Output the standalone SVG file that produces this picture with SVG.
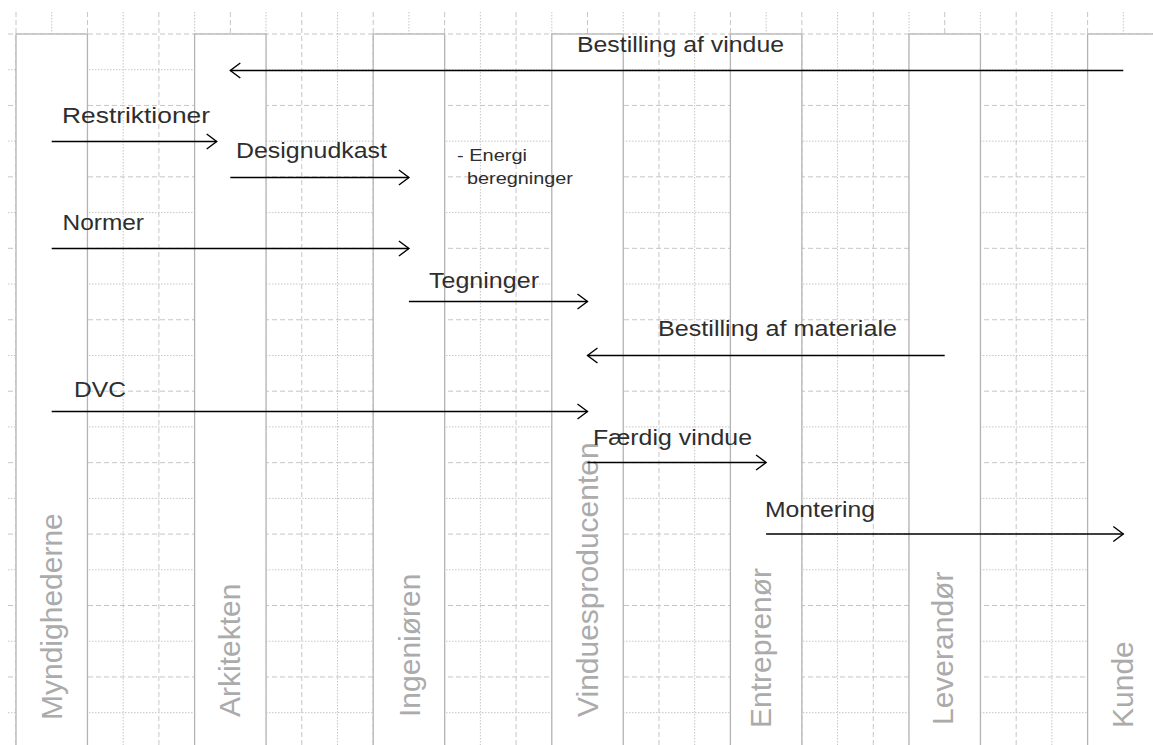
<svg xmlns="http://www.w3.org/2000/svg" width="1153" height="745" viewBox="0 0 1153 745">
<style>
.bg{fill:#ffffff}
.gd{stroke:#c6c6c6;stroke-width:1;stroke-dasharray:5 3;fill:none}
.gt{stroke:#c6c6c6;stroke-width:1;stroke-dasharray:1.5 1.5;fill:none}
.lane{fill:#ffffff;stroke:#b4b4b4;stroke-width:1.3}
.ll{font-family:"Liberation Sans",Arial,sans-serif;font-size:30px;fill:#ababab}
.lbl{font-family:"Liberation Sans",Arial,sans-serif;font-size:22px;fill:#2e2e2e}
.sm{font-family:"Liberation Sans",Arial,sans-serif;font-size:17px;fill:#2e2e2e}
.ar{stroke:#000000;stroke-width:1.5;fill:none;marker-end:url(#ah)}
</style>
<defs>
<marker id="ah" markerUnits="userSpaceOnUse" markerWidth="14" markerHeight="20" viewBox="-12 -10 14 20" refX="0" refY="0" orient="auto">
<path d="M-10,-7.5 L0,0 L-10,7.5" fill="none" stroke="#000000" stroke-width="1.4"/>
</marker>
</defs>
<rect class="bg" x="0" y="0" width="1153" height="745"/>
<g id="grid">
<line class="gd" x1="16" y1="12" x2="16" y2="745"/>
<line class="gt" x1="51.72" y1="12" x2="51.72" y2="745"/>
<line class="gd" x1="87.44" y1="12" x2="87.44" y2="745"/>
<line class="gt" x1="123.16" y1="12" x2="123.16" y2="745"/>
<line class="gd" x1="158.88" y1="12" x2="158.88" y2="745"/>
<line class="gt" x1="194.6" y1="12" x2="194.6" y2="745"/>
<line class="gd" x1="230.32" y1="12" x2="230.32" y2="745"/>
<line class="gt" x1="266.04" y1="12" x2="266.04" y2="745"/>
<line class="gd" x1="301.76" y1="12" x2="301.76" y2="745"/>
<line class="gt" x1="337.48" y1="12" x2="337.48" y2="745"/>
<line class="gd" x1="373.2" y1="12" x2="373.2" y2="745"/>
<line class="gt" x1="408.92" y1="12" x2="408.92" y2="745"/>
<line class="gd" x1="444.64" y1="12" x2="444.64" y2="745"/>
<line class="gt" x1="480.36" y1="12" x2="480.36" y2="745"/>
<line class="gd" x1="516.08" y1="12" x2="516.08" y2="745"/>
<line class="gt" x1="551.8" y1="12" x2="551.8" y2="745"/>
<line class="gd" x1="587.52" y1="12" x2="587.52" y2="745"/>
<line class="gt" x1="623.24" y1="12" x2="623.24" y2="745"/>
<line class="gd" x1="658.96" y1="12" x2="658.96" y2="745"/>
<line class="gt" x1="694.68" y1="12" x2="694.68" y2="745"/>
<line class="gd" x1="730.4" y1="12" x2="730.4" y2="745"/>
<line class="gt" x1="766.12" y1="12" x2="766.12" y2="745"/>
<line class="gd" x1="801.84" y1="12" x2="801.84" y2="745"/>
<line class="gt" x1="837.56" y1="12" x2="837.56" y2="745"/>
<line class="gd" x1="873.28" y1="12" x2="873.28" y2="745"/>
<line class="gt" x1="909" y1="12" x2="909" y2="745"/>
<line class="gd" x1="944.72" y1="12" x2="944.72" y2="745"/>
<line class="gt" x1="980.44" y1="12" x2="980.44" y2="745"/>
<line class="gd" x1="1016.16" y1="12" x2="1016.16" y2="745"/>
<line class="gt" x1="1051.88" y1="12" x2="1051.88" y2="745"/>
<line class="gd" x1="1087.6" y1="12" x2="1087.6" y2="745"/>
<line class="gt" x1="1123.32" y1="12" x2="1123.32" y2="745"/>
<line class="gd" x1="8" y1="34" x2="1153" y2="34"/>
<line class="gt" x1="8" y1="69.72" x2="1153" y2="69.72"/>
<line class="gd" x1="8" y1="105.44" x2="1153" y2="105.44"/>
<line class="gt" x1="8" y1="141.16" x2="1153" y2="141.16"/>
<line class="gd" x1="8" y1="176.88" x2="1153" y2="176.88"/>
<line class="gt" x1="8" y1="212.6" x2="1153" y2="212.6"/>
<line class="gd" x1="8" y1="248.32" x2="1153" y2="248.32"/>
<line class="gt" x1="8" y1="284.04" x2="1153" y2="284.04"/>
<line class="gd" x1="8" y1="319.76" x2="1153" y2="319.76"/>
<line class="gt" x1="8" y1="355.48" x2="1153" y2="355.48"/>
<line class="gd" x1="8" y1="391.2" x2="1153" y2="391.2"/>
<line class="gt" x1="8" y1="426.92" x2="1153" y2="426.92"/>
<line class="gd" x1="8" y1="462.64" x2="1153" y2="462.64"/>
<line class="gt" x1="8" y1="498.36" x2="1153" y2="498.36"/>
<line class="gd" x1="8" y1="534.08" x2="1153" y2="534.08"/>
<line class="gt" x1="8" y1="569.8" x2="1153" y2="569.8"/>
<line class="gd" x1="8" y1="605.52" x2="1153" y2="605.52"/>
<line class="gt" x1="8" y1="641.24" x2="1153" y2="641.24"/>
<line class="gd" x1="8" y1="676.96" x2="1153" y2="676.96"/>
<line class="gt" x1="8" y1="712.68" x2="1153" y2="712.68"/>
</g>
<g id="lane-myndighederne">
<rect class="lane" x="16" y="34" width="71.44" height="730"/>
<text class="ll" transform="translate(61.5,720) rotate(-90)">Myndighederne</text>
</g>
<g id="lane-arkitekten">
<rect class="lane" x="194.6" y="34" width="71.44" height="730"/>
<text class="ll" transform="translate(240,717) rotate(-90)">Arkitekten</text>
</g>
<g id="lane-ingenioren">
<rect class="lane" x="373.2" y="34" width="71.44" height="730"/>
<text class="ll" transform="translate(419.5,717) rotate(-90)">Ingeniøren</text>
</g>
<g id="lane-vinduesproducenten">
<rect class="lane" x="551.8" y="34" width="71.44" height="730"/>
<text class="ll" transform="translate(597.5,717) rotate(-90)">Vinduesproducenten</text>
</g>
<g id="lane-entreprenor">
<rect class="lane" x="730.4" y="34" width="71.44" height="730"/>
<text class="ll" transform="translate(771,728) rotate(-90)">Entreprenør</text>
</g>
<g id="lane-leverandor">
<rect class="lane" x="909" y="34" width="71.44" height="730"/>
<text class="ll" transform="translate(953,725) rotate(-90)">Leverandør</text>
</g>
<g id="lane-kunde">
<rect class="lane" x="1087.6" y="34" width="71.44" height="730"/>
<text class="ll" transform="translate(1132.5,728) rotate(-90)">Kunde</text>
</g>
<g id="connectors">
<line class="ar" x1="1123.3" y1="70.5" x2="230.3" y2="70.5"/>
<line class="ar" x1="51.7" y1="141.5" x2="216.7" y2="141.5"/>
<line class="ar" x1="230.3" y1="177.5" x2="408.9" y2="177.5"/>
<line class="ar" x1="51.7" y1="248.5" x2="408.9" y2="248.5"/>
<line class="ar" x1="408.9" y1="301.5" x2="587.5" y2="301.5"/>
<line class="ar" x1="944.7" y1="355.5" x2="587.5" y2="355.5"/>
<line class="ar" x1="51.7" y1="411.5" x2="587.5" y2="411.5"/>
<line class="ar" x1="587.5" y1="462.5" x2="766.1" y2="462.5"/>
<line class="ar" x1="766.1" y1="534" x2="1123.3" y2="534"/>
</g>
<g id="labels">
<text class="lbl" x="577" y="52" textLength="207" lengthAdjust="spacingAndGlyphs">Bestilling af vindue</text>
<text class="lbl" x="62" y="123" textLength="148" lengthAdjust="spacingAndGlyphs">Restriktioner</text>
<text class="lbl" x="236" y="158" textLength="151" lengthAdjust="spacingAndGlyphs">Designudkast</text>
<text class="sm" x="457" y="161" textLength="70" lengthAdjust="spacingAndGlyphs">- Energi</text>
<text class="sm" x="467" y="184" textLength="106" lengthAdjust="spacingAndGlyphs">beregninger</text>
<text class="lbl" x="62.5" y="230" textLength="81.5" lengthAdjust="spacingAndGlyphs">Normer</text>
<text class="lbl" x="429" y="287.5" textLength="110" lengthAdjust="spacingAndGlyphs">Tegninger</text>
<text class="lbl" x="658" y="336" textLength="239" lengthAdjust="spacingAndGlyphs">Bestilling af materiale</text>
<text class="lbl" x="74" y="397" textLength="52" lengthAdjust="spacingAndGlyphs">DVC</text>
<text class="lbl" x="593" y="445" textLength="159" lengthAdjust="spacingAndGlyphs">Færdig vindue</text>
<text class="lbl" x="765" y="517" textLength="110" lengthAdjust="spacingAndGlyphs">Montering</text>
</g>
</svg>
